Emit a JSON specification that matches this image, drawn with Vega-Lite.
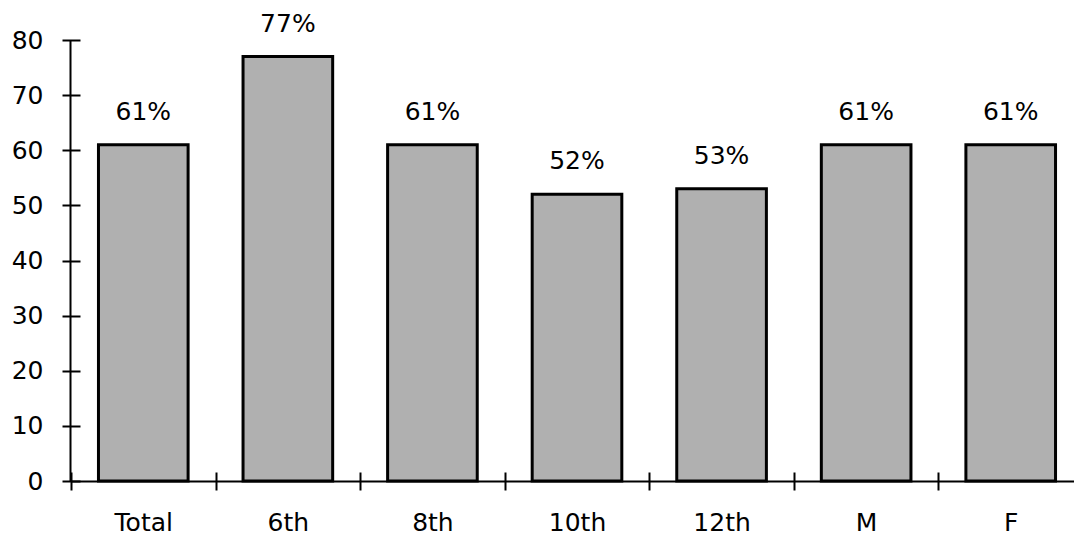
{
  "$schema": "https://vega.github.io/schema/vega-lite/v6.json",
  "autosize": {"type": "none"},
  "padding": {"left": 71, "top": 40, "right": 0, "bottom": 56},
  "width": 1003,
  "height": 441,
  "background": "white",
  "config": {"view": {"stroke": null}, "font": "DejaVu Sans"},
  "data": {"values": [
    {"group": "Total", "value": 61, "label": "61%"},
    {"group": "6th", "value": 77, "label": "77%"},
    {"group": "8th", "value": 61, "label": "61%"},
    {"group": "10th", "value": 52, "label": "52%"},
    {"group": "12th", "value": 53, "label": "53%"},
    {"group": "M", "value": 61, "label": "61%"},
    {"group": "F", "value": 61, "label": "61%"}
  ]},
  "encoding": {
    "y": {
      "field": "value", "type": "quantitative",
      "scale": {"domain": [0, 80], "nice": false},
      "axis": {
        "title": null, "values": [0, 10, 20, 30, 40, 50, 60, 70, 80],
        "domain": false, "offset": -9,
        "tickSize": 18, "tickWidth": 2, "tickColor": "black",
        "labelFontSize": 25, "labelFont": "DejaVu Sans", "labelColor": "black",
        "labelPadding": 19,
        "grid": true, "gridColor": "black", "gridWidth": 2,
        "gridOpacity": {"condition": {"test": "datum.value === 0", "value": 1}, "value": 0}
      }
    }
  },
  "layer": [
    {
      "mark": {"type": "bar", "width": {"band": 0.62}, "fill": "#b0b0b0", "stroke": "black", "strokeWidth": 3},
      "encoding": {
        "x": {
          "field": "group", "type": "nominal", "sort": null,
          "scale": {"range": [0, 1012], "paddingInner": 0, "paddingOuter": 0},
          "axis": {
            "title": null, "tickBand": "extent", "domain": false, "offset": -9,
            "tickSize": 18, "tickWidth": 2, "tickColor": "black",
            "labelFontSize": 25, "labelFont": "DejaVu Sans", "labelColor": "black",
            "labelPadding": 20, "labelAngle": 0, "grid": false
          }
        }
      }
    },
    {
      "mark": {"type": "text", "baseline": "alphabetic", "dy": -25, "fontSize": 25, "font": "DejaVu Sans", "color": "black"},
      "encoding": {
        "x": {
          "field": "group", "type": "nominal", "sort": null,
          "axis": {
            "orient": "top", "title": null, "bandPosition": 0, "labels": false, "ticks": false, "domain": false,
            "grid": true, "gridColor": "black", "gridWidth": 2,
            "gridOpacity": {"condition": {"test": "datum.value === 'Total'", "value": 1}, "value": 0}
          }
        },
        "text": {"field": "label"}
      }
    }
  ],
  "resolve": {"axis": {"x": "independent"}}
}
